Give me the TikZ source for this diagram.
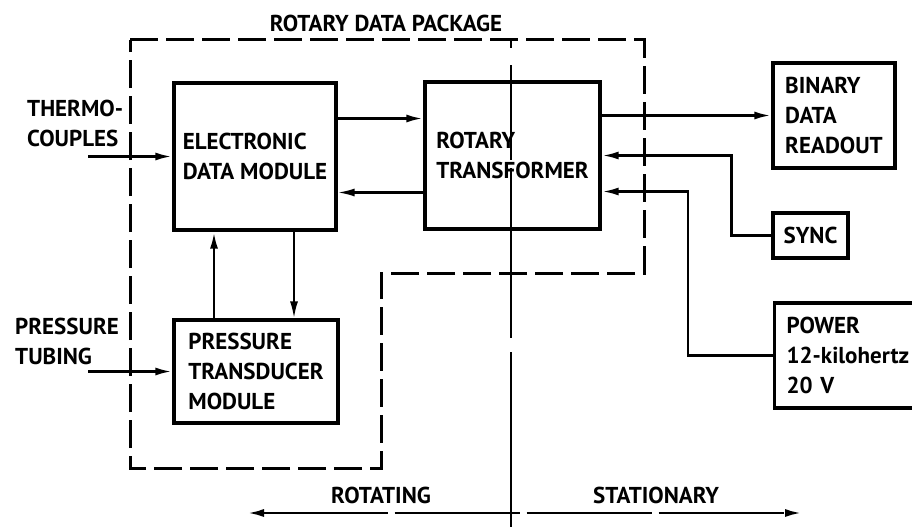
\documentclass[tikz,border=0pt]{standalone}
\usepackage{fontspec}
\setmainfont{PT Sans}
\usetikzlibrary{arrows.meta, positioning}

\begin{document}
\begin{tikzpicture}[x=1pt, y=-1pt, >={Latex[length=17pt, width=8pt]},
  block/.style={draw, line width=3.2pt, align=left, inner sep=0pt,
                font=\fontsize{23}{30}\selectfont\bfseries},
  lbl/.style={align=left, inner sep=0pt, font=\fontsize{23}{30}\selectfont\bfseries},
  flow/.style={->, line width=2.8pt}]
  \useasboundingbox (0,0) rectangle (912,527);
  \clip (0,0) rectangle (912,527);

  % Blocks
  \node[block, minimum width=162pt, minimum height=147pt] (edm) at (255,156.5)
    {ELECTRONIC\\DATA MODULE};
  \node[block, minimum width=175pt, minimum height=147pt] (rt) at (512.5,155.5)
    {ROTARY\\TRANSFORMER};
  \node[block, minimum width=164pt, minimum height=103pt] (ptm) at (256,371.5)
    {PRESSURE\\TRANSDUCER\\MODULE};
  \node[block, minimum width=122pt, minimum height=105pt] (bdr) at (834,115.5)
    {BINARY\\DATA\\READOUT};
  \node[block, minimum width=75pt, minimum height=45pt] (sync) at (810.5,235.5)
    {SYNC};
  \node[block, anchor=west, text width=125pt, inner xsep=12pt,
        minimum height=105pt] (power) at (773,355.5)
    {POWER\\12-kilohertz\\20 V};

  % Labels
  \node[lbl, anchor=north west] (tclbl) at (27,100) {THERMO-\\COUPLES};
  \node[lbl, anchor=north west] (ptlbl) at (15,318) {PRESSURE\\TUBING};
  \node[lbl] (pkglbl) at (386,23) {ROTARY DATA PACKAGE};
  \node[lbl] (rotlbl) at (381,495) {ROTATING};
  \node[lbl] (statlbl) at (656,495) {STATIONARY};

  % Package outline and rotating/stationary split
  \draw[line width=3pt, dash pattern=on 28pt off 8pt]
    (130,40) -- (644,40) -- (644,273) -- (381,273) -- (381,468)
    -- (130,468) -- cycle;
  \coordinate (splittop) at (511,40);
  \coordinate (splitbot) at (511,527);
  \draw[line width=2pt,
        dash pattern=on 8pt off 17pt on 95pt off 8pt on 170pt off 14pt on 200pt off 0pt]
    (splittop) -- (splitbot);

  % Inputs
  \coordinate (tcin) at (88,156.5);
  \coordinate (ptin) at (88,371.5);
  \draw[flow] (tcin) -- (edm.west);
  \draw[flow] (ptin) -- (ptm.west);

  % Module links
  \coordinate (edmout) at ([yshift=38pt]edm.east);
  \draw[flow] (edmout) -- (edmout -| rt.west);
  \coordinate (edmin) at ([yshift=-36pt]edm.east);
  \draw[flow, line width=2.2pt] (edmin -| rt.west) -- (edmin);
  \coordinate (ptmup) at ([xshift=-41pt]edm.south);
  \draw[flow] (ptmup |- ptm.north) -- (ptmup);
  \coordinate (ptmdown) at ([xshift=39pt]edm.south);
  \draw[flow, line width=2.2pt] (ptmdown) -- (ptmdown |- ptm.north);

  % Stationary side
  \draw[flow] (bdr.west -| rt.east) -- (bdr.west);
  \draw[flow] (sync.west) -- ++(-40,0) |- (rt.east);
  \coordinate (pwrin) at ([yshift=-36pt]rt.east);
  \draw[flow] (power.west) -- ++(-85,0) |- (pwrin);

  % Rotating / stationary arrow
  \coordinate (rotend) at (247,513);
  \coordinate (statend) at (802,513);
  \draw[<->, line width=2.8pt, dash pattern=on 125pt off 7pt] (rotend) -- (statend);
\end{tikzpicture}
\end{document}
